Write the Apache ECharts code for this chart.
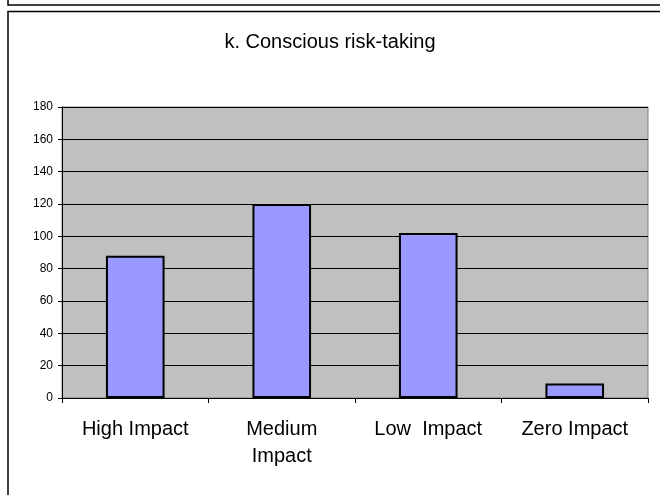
<!DOCTYPE html>
<html>
<head>
<meta charset="utf-8">
<title>k. Conscious risk-taking</title>
<script src="https://cdn.jsdelivr.net/npm/echarts@6/dist/echarts.min.js"></script>
<style>
  html, body { margin: 0; padding: 0; background: #ffffff; }
  #chart { width: 660px; height: 495px; }
</style>
</head>
<body>
<div id="chart"></div>
<script>
const titleText = 'k. Conscious risk-taking';
const categories = ['High Impact', 'Medium\nImpact', 'Low  Impact', 'Zero Impact'];
const counts = [88, 120, 102, 9];
const yMin = 0;
const yMax = 180;
const yStep = 20;

const fontFamily = 'Arial, "Liberation Sans", sans-serif';

const chart = echarts.init(document.getElementById('chart'), null, { renderer: 'canvas' });

chart.setOption({
  animation: false,
  backgroundColor: '#ffffff',
  textStyle: { fontFamily: fontFamily },
  title: {
    text: titleText,
    left: 'center',
    top: 32,
    padding: 0,
    textStyle: {
      fontFamily: fontFamily,
      fontSize: 20,
      fontWeight: 'normal',
      color: '#000000'
    }
  },
  // frame of the sheet: bottom of the box above and the chart's own border
  graphic: [
    {
      type: 'polyline',
      shape: { points: [[8, 0], [8, 5], [662, 5]] },
      style: { stroke: '#000000', lineWidth: 1.5, fill: null },
      silent: true
    },
    {
      type: 'rect',
      shape: { x: 8, y: 11.5, width: 700, height: 600 },
      style: { stroke: '#000000', lineWidth: 1.5, fill: null },
      silent: true
    }
  ],
  grid: {
    left: 62,
    right: 12,
    top: 107,
    bottom: 97,
    show: true,
    backgroundColor: '#c0c0c0',
    borderColor: '#808080',
    borderWidth: 1
  },
  xAxis: {
    type: 'category',
    data: categories,
    axisLine: { lineStyle: { color: '#000000', width: 1 } },
    axisTick: { show: true, length: 5, lineStyle: { color: '#000000' } },
    axisLabel: {
      color: '#000000',
      fontFamily: fontFamily,
      fontSize: 20,
      lineHeight: 27,
      margin: 18,
      interval: 0
    },
    splitLine: { show: false }
  },
  yAxis: {
    type: 'value',
    min: yMin,
    max: yMax,
    interval: yStep,
    axisLine: { show: true, lineStyle: { color: '#000000', width: 1 } },
    axisTick: { show: true, length: 4, lineStyle: { color: '#000000' } },
    axisLabel: {
      color: '#000000',
      fontFamily: fontFamily,
      fontSize: 12,
      margin: 9
    },
    splitLine: { show: true, lineStyle: { color: '#000000', width: 1 } }
  },
  series: [{
    name: titleText,
    type: 'bar',
    data: counts,
    barWidth: '40%',
    itemStyle: {
      color: '#9999ff',
      borderColor: '#000000',
      borderWidth: 2
    }
  }]
});
</script>
</body>
</html>
